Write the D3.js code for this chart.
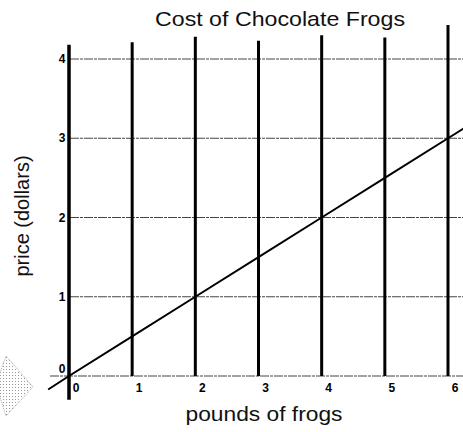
<!DOCTYPE html>
<html><head><meta charset="utf-8">
<script src="https://cdn.jsdelivr.net/npm/d3@7"></script>
<style>body{margin:0;background:#fff}svg{display:block}</style>
</head><body>
<script>
// Data
const xTicks = [0, 1, 2, 3, 4, 5, 6];
const yTicks = [0, 1, 2, 3, 4];
const pounds = [-0.33, 0, 1, 2, 3, 4, 5, 6, 6.25];
const price = [-0.17, 0, 0.5, 1, 1.5, 2, 2.5, 3, 3.125];
const gridTops = [4.18, 4.21, 4.28, 4.23, 4.3, 4.27, 4.43];
const title = "Cost of Chocolate Frogs";
const xTitle = "pounds of frogs";
const yTitle = "price (dollars)";

const W = 463, H = 432;
const svg = d3.select("body").append("svg").attr("width", W).attr("height", H);
const x = d3.scaleLinear().domain([0, 6]).range([69, 448]);
const y = d3.scaleLinear().domain([0, 4]).range([376, 59]);
const font = "'Liberation Sans', Arial, sans-serif";

// scan artifact diamond
const defs = svg.append("defs");
const pat = defs.append("pattern").attr("id", "dots").attr("width", 3).attr("height", 3).attr("patternUnits", "userSpaceOnUse");
pat.append("rect").attr("width", 1).attr("height", 1).attr("fill", "#9a9a9a");
svg.append("polygon")
  .attr("points", "-4,384 6,356 33,387 6,416")
  .attr("fill", "url(#dots)").attr("stroke", "#aaa").attr("stroke-width", 1).attr("stroke-dasharray", "1,1");

// horizontal grid lines
svg.append("g").selectAll("line").data(yTicks).join("line")
  .attr("x1", d => d === 0 ? 50 : 70).attr("x2", W)
  .attr("y1", d => y(d)).attr("y2", d => y(d))
  .attr("stroke", "#444").attr("stroke-width", 1).attr("stroke-dasharray", "9,1,3,1");

// vertical lines
svg.append("g").selectAll("line").data(xTicks).join("line")
  .attr("x1", d => x(d)).attr("x2", d => x(d))
  .attr("y1", (d, i) => y(gridTops[i]))
  .attr("y2", d => d === 0 ? y(-0.3) : y(0))
  .attr("stroke", "#000").attr("stroke-width", d => d === 0 ? 3.5 : 3);

// data line
svg.append("path")
  .datum(pounds.map((p, i) => [p, price[i]]))
  .attr("d", d3.line().x(d => x(d[0])).y(d => y(d[1])))
  .attr("fill", "none").attr("stroke", "#000").attr("stroke-width", 2);

// y tick labels
svg.append("g").selectAll("text").data(yTicks).join("text")
  .attr("x", 62).attr("y", d => d === 0 ? y(d) - 3 : y(d) + 4)
  .attr("text-anchor", "middle")
  .attr("font-family", font).attr("font-weight", "bold").attr("font-size", 12)
  .text(d => d);

// x tick labels
svg.append("g").selectAll("text").data(xTicks).join("text")
  .attr("x", d => x(d) + 7).attr("y", 392)
  .attr("text-anchor", "middle")
  .attr("font-family", font).attr("font-weight", "bold").attr("font-size", 12)
  .text(d => d);

// titles
svg.append("text").attr("x", 280).attr("y", 26).attr("text-anchor", "middle")
  .attr("font-family", font).attr("font-size", 21).attr("fill", "#111")
  .attr("textLength", 250).attr("lengthAdjust", "spacingAndGlyphs").text(title);
svg.append("text").attr("x", 264).attr("y", 421).attr("text-anchor", "middle")
  .attr("font-family", font).attr("font-size", 21).attr("fill", "#111")
  .attr("textLength", 157).attr("lengthAdjust", "spacingAndGlyphs").text(xTitle);
svg.append("text").attr("transform", "translate(29,216) rotate(-90)").attr("text-anchor", "middle")
  .attr("font-family", font).attr("font-size", 20).attr("fill", "#111").text(yTitle);
</script>
</body></html>
